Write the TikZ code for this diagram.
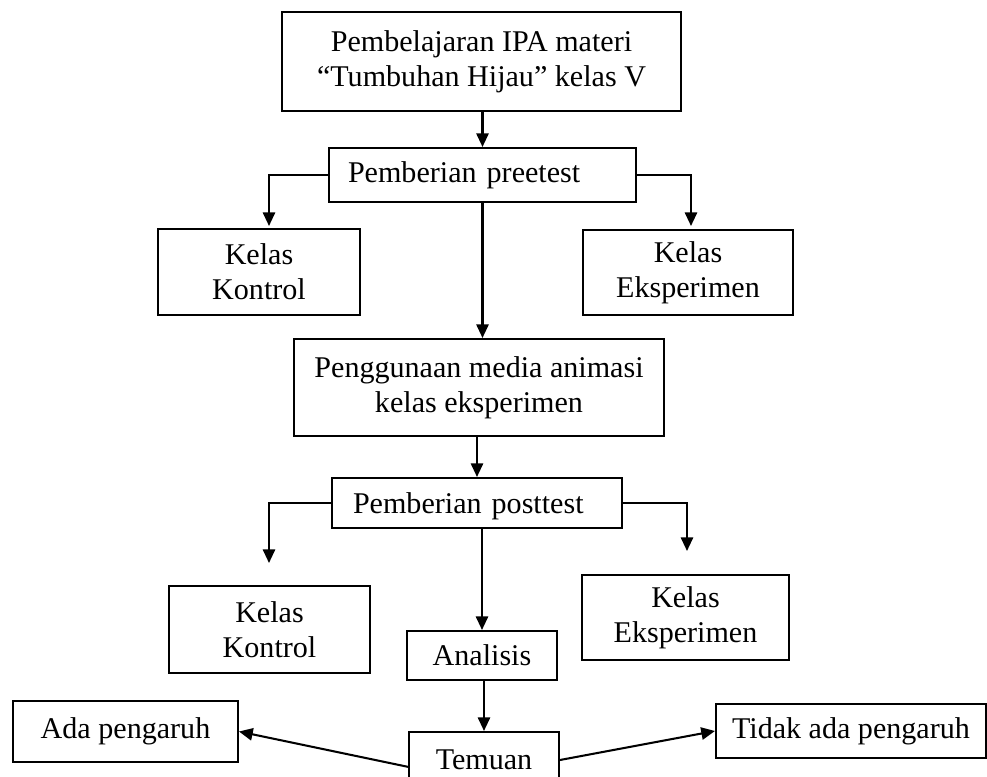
\documentclass[tikz,border=0pt]{standalone}
\usepackage{fontspec}
\setmainfont{Liberation Serif}
\usetikzlibrary{arrows.meta, calc}
\newcommand{\pxu}{0.0146cm}

\begin{document}
\begin{tikzpicture}[x=\pxu, y=-\pxu, >={Triangle[length=2mm, width=1.8mm]},
  box/.style={draw, line width=0.85pt, inner sep=0pt, align=center, font=\fontsize{12.5}{14.6}\selectfont},
  link/.style={->, line width=0.85pt}]

\useasboundingbox (0,0) rectangle (987,777);
\clip (0,0) rectangle (987,777);


\node[box, minimum width=399*\pxu, minimum height=99*\pxu] (top) at (481.5,61.5) {Pembelajaran IPA materi\\“Tumbuhan Hijau” kelas V};
\node[box, minimum height=54*\pxu, text width=269*\pxu, inner xsep=19*\pxu, align=left] (preetest) at (482.5,175) {Pemberian preetest};

\node[box, minimum width=202*\pxu, minimum height=86*\pxu] (kontrolA) at (259,272) {Kelas\\Kontrol};
\node[box, minimum width=210*\pxu, minimum height=85*\pxu] (eksperimenA) at (688,272.5) {Kelas\\Eksperimen};

\node[box, minimum width=370*\pxu, minimum height=97*\pxu] (media) at (479,387.5) {Penggunaan media animasi\\kelas eksperimen};
\node[box, minimum height=50*\pxu, text width=248*\pxu, inner xsep=21*\pxu, align=left, text depth=0pt] (posttest) at (477,503) {Pemberian posttest};

\node[box, minimum width=201*\pxu, minimum height=87*\pxu] (kontrolB) at (269.5,629.5) {Kelas\\Kontrol};
\node[box, minimum width=207*\pxu, minimum height=85*\pxu] (eksperimenB) at (685.5,617.5) {Kelas\\Eksperimen};
\node[box, minimum width=150*\pxu, minimum height=49*\pxu] (analisis) at (482,655.5) {Analisis};

\node[box, minimum width=150*\pxu, minimum height=56*\pxu] (temuan) at (484,760) {Temuan};
\node[box, minimum width=225*\pxu, minimum height=61*\pxu] (ada) at (125.5,731.5) {Ada pengaruh};
\node[box, minimum width=270*\pxu, minimum height=54*\pxu] (tidak) at (851,731) {Tidak ada pengaruh};


\coordinate (kontrolAtip) at (269,226);
\coordinate (eksperimenAtip) at (691,226);
\coordinate (kontrolBtip) at (269,563);
\coordinate (eksperimenBtip) at (687,551);


\draw[link] (preetest.north |- top.south) -- (preetest.north);
\draw[link] (preetest.west) -| (kontrolAtip);
\draw[link] (preetest.east) -| (eksperimenAtip);
\draw[link] (preetest.south) -- (preetest.south |- media.north);

\draw[link] (posttest.north |- media.south) -- (posttest.north);
\draw[link] (posttest.west) -| (kontrolBtip);
\draw[link] (posttest.east) -| (eksperimenBtip);
\draw[link] (analisis.north |- posttest.south) -- (analisis.north);

\draw[link] (temuan.north |- analisis.south) -- (temuan.north);
\draw[link] ([yshift=-0.1cm]temuan.west) -- (ada.east);
\draw[link] (temuan.east) -- (tidak.west);

\end{tikzpicture}
\end{document}
